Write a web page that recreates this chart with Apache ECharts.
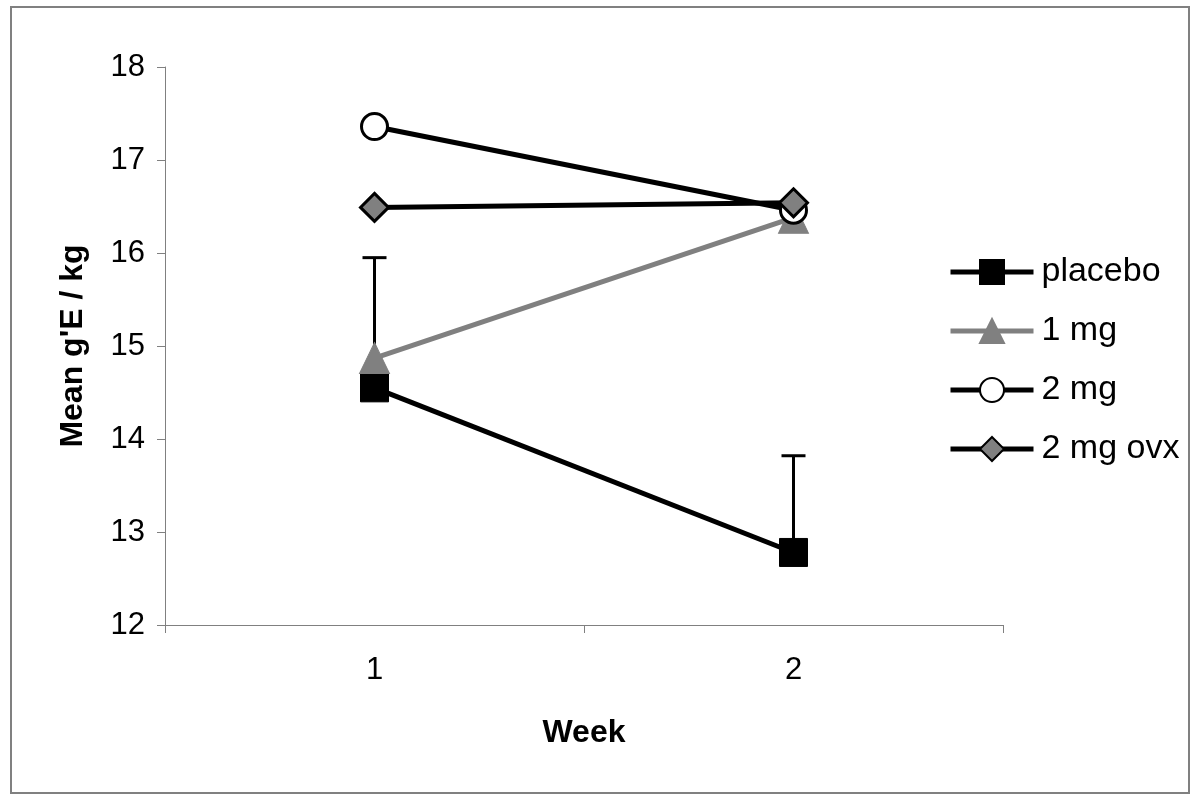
<!DOCTYPE html>
<html>
<head>
<meta charset="utf-8">
<script src="https://cdn.jsdelivr.net/npm/echarts@6/dist/echarts.min.js"></script>
<style>
  html, body { margin: 0; padding: 0; background: #fff; }
  #chart { width: 1200px; height: 806px; }
</style>
</head>
<body>
<div id="chart"></div>
<script>
// data
const weeks = ['1', '2'];
const placebo = [14.55, 12.78];
const mg1 = [14.87, 16.38];
const mg2 = [17.36, 16.46];
const mg2ovx = [16.49, 16.54];
// placebo upper error bar ends
const placeboErrTop = [15.95, 13.82];

const font = "'Liberation Sans', Arial, sans-serif";

const errData = weeks.map((w, i) => [i, placebo[i], placeboErrTop[i]]);

const chart = echarts.init(document.getElementById('chart'));

const option = {
  backgroundColor: '#ffffff',
  animation: false,
  textStyle: { fontFamily: font },
  graphic: [{
    type: 'rect',
    shape: { x: 11, y: 7, width: 1178, height: 786 },
    style: { fill: 'none', stroke: '#808080', lineWidth: 2 },
    silent: true
  }],
  grid: { left: 165, right: 197, top: 67, bottom: 181 },
  legend: {
    orient: 'vertical',
    left: 943,
    top: 250,
    itemWidth: 83,
    itemHeight: 30,
    itemGap: 25,
    lineStyle: { width: 5 },
    textStyle: { fontSize: 34, color: '#000', fontFamily: font, padding: [0, 0, 0, 3] },
    data: ['placebo', '1 mg', '2 mg', '2 mg ovx']
  },
  xAxis: {
    type: 'category',
    data: weeks,
    boundaryGap: true,
    name: 'Week',
    nameLocation: 'middle',
    nameGap: 92,
    nameTextStyle: { fontSize: 32, fontWeight: 'bold', color: '#000', fontFamily: font },
    axisLine: { lineStyle: { color: '#808080', width: 1 } },
    axisTick: { show: true, alignWithLabel: false, length: 8, lineStyle: { color: '#808080' } },
    axisLabel: { fontSize: 31, color: '#000', margin: 30, fontFamily: font },
    splitLine: { show: false }
  },
  yAxis: {
    type: 'value',
    min: 12,
    max: 18,
    interval: 1,
    name: "Mean g'E / kg",
    nameLocation: 'middle',
    nameGap: 76,
    nameRotate: 90,
    nameTextStyle: { fontSize: 32, fontWeight: 'bold', color: '#000', fontFamily: font },
    axisLine: { show: true, lineStyle: { color: '#808080', width: 1 } },
    axisTick: { show: true, length: 8, lineStyle: { color: '#808080' } },
    axisLabel: { fontSize: 31, color: '#000', margin: 20, fontFamily: font },
    splitLine: { show: false }
  },
  series: [
    {
      name: 'placebo err',
      type: 'custom',
      z: 1,
      silent: true,
      data: errData,
      renderItem: function (params, api) {
        const x = api.value(0);
        const lo = api.coord([x, api.value(1)]);
        const hi = api.coord([x, api.value(2)]);
        const half = 12;
        return {
          type: 'group',
          children: [
            { type: 'line', shape: { x1: lo[0], y1: lo[1], x2: hi[0], y2: hi[1] },
              style: { stroke: '#000', lineWidth: 3 } },
            { type: 'line', shape: { x1: hi[0] - half, y1: hi[1], x2: hi[0] + half, y2: hi[1] },
              style: { stroke: '#000', lineWidth: 3 } }
          ]
        };
      }
    },
    {
      name: 'placebo',
      type: 'line',
      z: 2,
      data: placebo,
      symbol: 'rect',
      symbolSize: 28,
      lineStyle: { color: '#000', width: 5 },
      itemStyle: { color: '#000', borderColor: '#000', borderWidth: 1 }
    },
    {
      name: '1 mg',
      type: 'line',
      z: 3,
      data: mg1,
      symbol: 'triangle',
      symbolSize: [30, 31],
      lineStyle: { color: '#808080', width: 5 },
      itemStyle: { color: '#808080', borderColor: '#808080', borderWidth: 1 }
    },
    {
      name: '2 mg',
      type: 'line',
      z: 4,
      data: mg2,
      symbol: 'circle',
      symbolSize: 26,
      lineStyle: { color: '#000', width: 5 },
      itemStyle: { color: '#ffffff', borderColor: '#000', borderWidth: 3 }
    },
    {
      name: '2 mg ovx',
      type: 'line',
      z: 5,
      data: mg2ovx,
      symbol: 'diamond',
      symbolSize: 28,
      lineStyle: { color: '#000', width: 5 },
      itemStyle: { color: '#808080', borderColor: '#000', borderWidth: 3 }
    }
  ]
};

chart.setOption(option);
</script>
</body>
</html>
